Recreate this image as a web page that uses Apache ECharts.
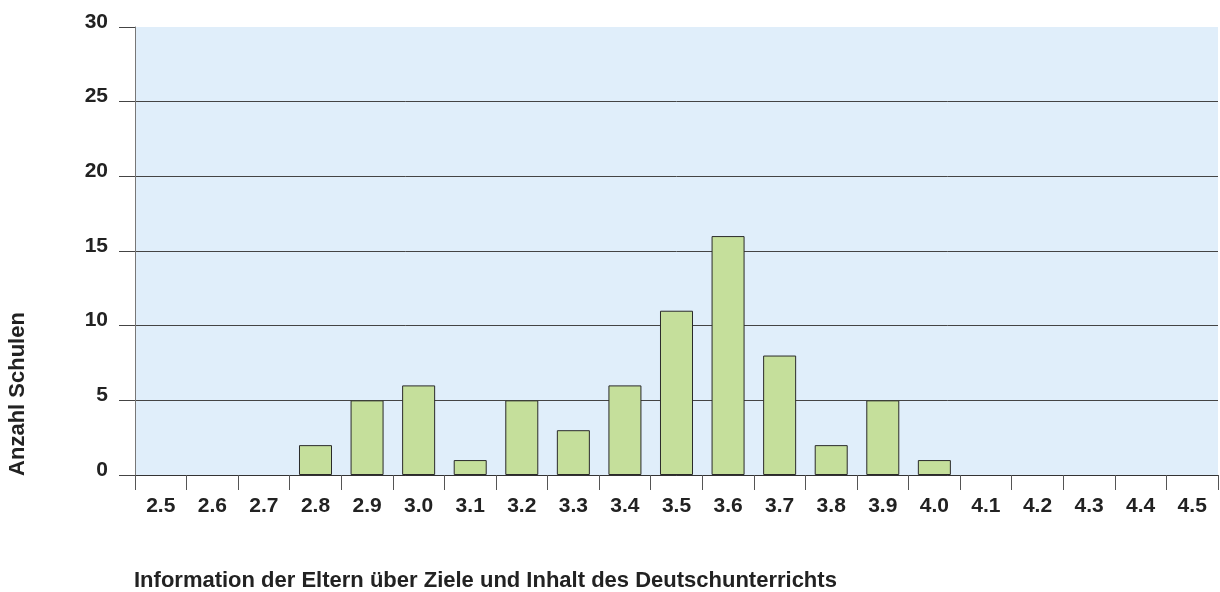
<!DOCTYPE html>
<html>
<head>
<meta charset="utf-8">
<script src="https://cdn.jsdelivr.net/npm/echarts@6/dist/echarts.min.js"></script>
<style>
  html, body { margin: 0; padding: 0; background: #fff; }
  #main { width: 1220px; height: 592px; }
</style>
</head>
<body>
<div id="main"></div>
<script>
// Kategorien (Mittelwert) und Anzahl Schulen
var categories = ['2.5', '2.6', '2.7', '2.8', '2.9', '3.0', '3.1', '3.2', '3.3', '3.4', '3.5',
    '3.6', '3.7', '3.8', '3.9', '4.0', '4.1', '4.2', '4.3', '4.4', '4.5'];
var schulen = [0, 0, 0, 2, 5, 6, 1, 5, 3, 6, 11, 16, 8, 2, 5, 1, 0, 0, 0, 0, 0];
var yTicks = [0, 5, 10, 15, 20, 25, 30];

var xTitle = 'Information der Eltern über Ziele und Inhalt des Deutschunterrichts';
var yTitle = 'Anzahl Schulen';

var myChart = echarts.init(document.getElementById('main'));
var fontFam = '"Liberation Sans", Arial, sans-serif';

// leere Klassen nicht als Strich zeichnen
var barData = schulen.map(function(v) { return v === 0 ? '-' : v; });

var option = {
    animation: false,
    grid: {
        left: 135,
        right: 2,
        top: 27,
        bottom: 117,
        show: true,
        backgroundColor: '#e0eefa',
        borderWidth: 0
    },
    xAxis: {
        type: 'category',
        data: categories,
        boundaryGap: true,
        axisLine: { lineStyle: { color: '#333', width: 1 } },
        axisTick: { show: true, length: 15, alignWithLabel: false, lineStyle: { color: '#555' } },
        axisLabel: {
            margin: 21,
            fontSize: 21,
            fontWeight: 'bold',
            color: '#222',
            fontFamily: fontFam
        },
        splitLine: { show: false }
    },
    yAxis: {
        type: 'value',
        min: yTicks[0],
        max: yTicks[yTicks.length - 1],
        interval: 5,
        axisLine: { show: true, lineStyle: { color: '#777', width: 1 } },
        axisTick: { show: true, length: 16, lineStyle: { color: '#444' } },
        axisLabel: {
            margin: 27,
            fontSize: 21,
            fontWeight: 'bold',
            color: '#222',
            fontFamily: fontFam,
            verticalAlign: 'bottom',
            lineHeight: 10
        },
        splitLine: {
            show: true,
            lineStyle: {
                color: ['#444', '#444', '#444', '#444', '#444', '#444', 'rgba(0,0,0,0)'],
                width: 1
            }
        }
    },
    series: [{
        type: 'bar',
        data: barData,
        barWidth: '64%',
        itemStyle: {
            color: '#c5df9b',
            borderColor: '#2a2a2a',
            borderWidth: 1
        }
    }],
    graphic: [
        {
            type: 'text',
            x: 18,
            y: 394,
            rotation: Math.PI / 2,
            style: {
                text: yTitle,
                fontSize: 22,
                fontWeight: 'bold',
                fontFamily: fontFam,
                fill: '#222',
                textAlign: 'center',
                textVerticalAlign: 'middle'
            }
        },
        {
            type: 'text',
            x: 134,
            y: 581,
            style: {
                text: xTitle,
                fontSize: 22,
                fontWeight: 'bold',
                fontFamily: fontFam,
                fill: '#222',
                textAlign: 'left',
                textVerticalAlign: 'middle'
            }
        }
    ]
};

myChart.setOption(option);
</script>
</body>
</html>
